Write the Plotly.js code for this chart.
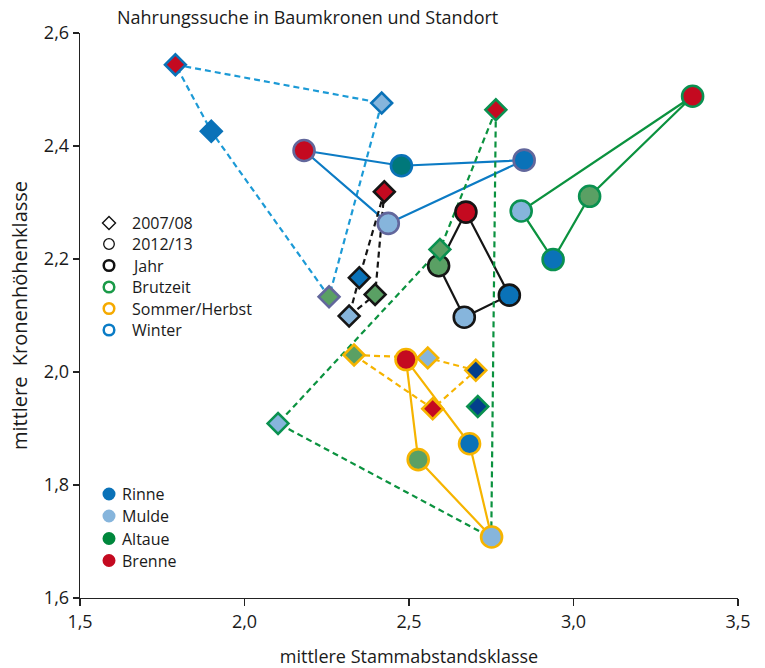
<!DOCTYPE html>
<html>
<head>
<meta charset="utf-8">
<script src="https://cdn.plot.ly/plotly-3.0.1.min.js"></script>
<style>html,body{margin:0;padding:0;background:#fff;}#chart{width:765px;height:668px;}</style>
</head>
<body>
<div id="chart"></div>
<script>
// ---- data (site order: Rinne, Mulde, Altaue, Brenne) ----
const sites = ['Rinne', 'Mulde', 'Altaue', 'Brenne'];
const seasons = ['Jahr', 'Brutzeit', 'Sommer/Herbst', 'Winter'];
const periods = ['2007/08', '2012/13'];

const win0708_x = [1.899, 2.417, 2.257, 1.790];
const win0708_y = [2.426, 2.476, 2.133, 2.544];
const win1213_x = [2.850, 2.437, 2.477, 2.181];
const win1213_y = [2.375, 2.263, 2.365, 2.392];
const jahr0708_x = [2.349, 2.318, 2.397, 2.425];
const jahr0708_y = [2.167, 2.099, 2.137, 2.319];
const jahr1213_x = [2.805, 2.668, 2.590, 2.673];
const jahr1213_y = [2.136, 2.097, 2.188, 2.283];
const brut0708_x = [2.709, 2.102, 2.594, 2.764];
const brut0708_y = [1.939, 1.909, 2.217, 2.464];
const brut1213_x = [2.938, 2.841, 3.049, 3.362];
const brut1213_y = [2.199, 2.285, 2.311, 2.488];
const sh0708_x = [2.703, 2.557, 2.333, 2.572];
const sh0708_y = [2.003, 2.025, 2.030, 1.935];
const sh1213_x = [2.684, 2.751, 2.528, 2.491];
const sh1213_y = [1.873, 1.708, 1.845, 2.022];
// dashed Brutzeit 2007/08 outline as drawn in the original
const brut0708_path_x = [2.764, 2.594, 2.102, 2.750, 2.764];
const brut0708_path_y = [2.464, 2.217, 1.909, 1.707, 2.464];

// connection order (indices into site arrays)
const win0708_order = [3, 1, 2, 0, 3];
const win1213_order = [3, 2, 0, 1, 3];
const jahr0708_order = [3, 0, 1, 2, 3];
const jahr1213_order = [3, 0, 1, 2, 3];
const brut1213_order = [3, 1, 0, 2, 3];
const sh0708_order = [2, 1, 0, 3, 2];
const sh1213_order = [3, 2, 1, 0, 3];

// ---- styles ----
const RIN = '#0a72b8', RIN_D = '#033f8c', MUL = '#86b5dc', ALT = '#5aa064', ALT_T = '#00787a', BRE = '#c40a20';
const C_JAHR = '#151515', C_BRUT = '#0a9150', C_BRUT_L = '#0b923f', C_SH = '#f6b400';
const C_WIN = '#0a72b8', C_WIN_P = '#62679c', C_WIN_DASH = '#1c9ad6', C_WIN_SOLID = '#0c7bc4';
const DASH = '6px,4px';

function pick(arr, order) { return order.map(i => arr[i]); }
function lineTrace(x, y, color, dash) {
  return {type: 'scatter', mode: 'lines', x: x, y: y, showlegend: false, hoverinfo: 'skip',
    line: {color: color, width: 2.2, dash: dash || 'solid'}};
}
function markTrace(x, y, symbol, fills, outlines) {
  const isD = symbol === 'diamond';
  return {type: 'scatter', mode: 'markers', x: x, y: y, text: sites, showlegend: false,
    marker: {symbol: symbol, size: isD ? 16 : 21, color: fills,
      line: {color: outlines, width: 2.6}}};
}

const traces = [
  lineTrace(pick(win0708_x, win0708_order), pick(win0708_y, win0708_order), C_WIN_DASH, DASH),
  lineTrace(pick(win1213_x, win1213_order), pick(win1213_y, win1213_order), C_WIN_SOLID),
  lineTrace(pick(jahr0708_x, jahr0708_order), pick(jahr0708_y, jahr0708_order), C_JAHR, DASH),
  lineTrace(pick(jahr1213_x, jahr1213_order), pick(jahr1213_y, jahr1213_order), C_JAHR),
  lineTrace(brut0708_path_x, brut0708_path_y, C_BRUT_L, DASH),
  lineTrace(pick(brut1213_x, brut1213_order), pick(brut1213_y, brut1213_order), C_BRUT_L),
  lineTrace(pick(sh0708_x, sh0708_order), pick(sh0708_y, sh0708_order), C_SH, DASH),
  lineTrace(pick(sh1213_x, sh1213_order), pick(sh1213_y, sh1213_order), C_SH),

  markTrace(win0708_x, win0708_y, 'diamond', [RIN, MUL, ALT, BRE], [C_WIN, C_WIN, C_WIN_P, C_WIN]),
  markTrace(win1213_x, win1213_y, 'circle', [RIN, MUL, ALT_T, BRE], [C_WIN_P, C_WIN_P, C_WIN, C_WIN_P]),
  markTrace(jahr1213_x, jahr1213_y, 'circle', [RIN, MUL, ALT, BRE], C_JAHR),
  markTrace(jahr0708_x, jahr0708_y, 'diamond', [RIN, MUL, ALT, BRE], C_JAHR),
  markTrace(brut1213_x, brut1213_y, 'circle', [RIN, MUL, ALT, BRE], C_BRUT),
  markTrace(brut0708_x, brut0708_y, 'diamond', [RIN_D, MUL, ALT, BRE], C_BRUT),
  markTrace(sh0708_x, sh0708_y, 'diamond', [RIN_D, MUL, ALT, BRE], C_SH),
  markTrace(sh1213_x, sh1213_y, 'circle', [RIN, MUL, ALT, BRE], C_SH)
];

// ---- legends (layout shapes + annotations, pixel-placed) ----
const M = {l: 80, r: 27, t: 33, b: 70};
const PW = 765 - M.l - M.r, PH = 668 - M.t - M.b;
const px2x = p => (p - M.l) / PW;
const px2y = p => (668 - M.b - p) / PH;

const leg1Names = periods.concat(seasons);
const leg1Rows = [223, 244, 265.5, 287, 308.5, 330];
const leg1Col = ['#111', '#111', '#111', '#1a9a48', '#f5aa00', '#0a7cc6'];
const leg1W = [1.4, 1.3, 2.5, 2.5, 2.5, 2.5];
const leg2Rows = [494, 516, 538.5, 560.5];
const leg2Col = [RIN, MUL, '#00873c', BRE];

const shapes = [], annotations = [];
leg1Names.forEach((n, i) => {
  const base = {xref: 'paper', yref: 'paper', xsizemode: 'pixel', ysizemode: 'pixel',
    xanchor: px2x(109), yanchor: px2y(leg1Rows[i]), line: {color: leg1Col[i], width: leg1W[i]},
    fillcolor: 'rgba(0,0,0,0)'};
  if (i === 0) shapes.push(Object.assign(base, {type: 'path', path: 'M-6.5,0 L0,6.5 L6.5,0 L0,-6.5 Z'}));
  else shapes.push(Object.assign(base, {type: 'circle', x0: -5.3, x1: 5.3, y0: -5.3, y1: 5.3}));
  annotations.push({xref: 'paper', yref: 'paper', x: px2x(130), y: px2y(leg1Rows[i]), xanchor: 'left',
    yanchor: 'middle', text: n, showarrow: false, font: {size: 16, color: '#1a1a1a'}});
});
sites.forEach((n, i) => {
  shapes.push({type: 'circle', xref: 'paper', yref: 'paper', xsizemode: 'pixel', ysizemode: 'pixel',
    xanchor: px2x(109), yanchor: px2y(leg2Rows[i]), x0: -6.5, x1: 6.5, y0: -6.5, y1: 6.5,
    fillcolor: leg2Col[i], line: {width: 0}});
  annotations.push({xref: 'paper', yref: 'paper', x: px2x(120), y: px2y(leg2Rows[i]), xanchor: 'left',
    yanchor: 'middle', text: n, showarrow: false, font: {size: 16, color: '#1a1a1a'}});
});

const FONT = 'Open Sans, Lato, sans-serif';
const layout = {
  width: 765, height: 668,
  margin: M,
  paper_bgcolor: '#fff', plot_bgcolor: '#fff',
  separators: ',.',
  showlegend: false,
  font: {family: FONT, color: '#1a1a1a', size: 16},
  title: {text: 'Nahrungssuche in Baumkronen und Standort', x: 117 / 765, xanchor: 'left',
    xref: 'container', y: 1 - 18 / 668, yref: 'container', yanchor: 'middle', font: {size: 18, color: '#1a1a1a'}},
  xaxis: {range: [1.5, 3.5], dtick: 0.5, tick0: 1.5, tickformat: '.1f', showgrid: false, zeroline: false,
    showline: true, linecolor: '#222', linewidth: 1.3, ticks: 'outside', ticklen: 7, tickcolor: '#222', tickwidth: 1.3,
    tickfont: {size: 18}, title: {text: 'mittlere Stammabstandsklasse', font: {size: 18}, standoff: 20}, fixedrange: true},
  yaxis: {range: [1.6, 2.6], dtick: 0.2, tick0: 1.6, tickformat: '.1f', showgrid: false, zeroline: false,
    showline: true, linecolor: '#222', linewidth: 1.3, ticks: 'outside', ticklen: 6, tickcolor: '#222', tickwidth: 1.3,
    tickfont: {size: 18}, title: {text: 'mittlere  Kronenhöhenklasse', font: {size: 20}, standoff: 10}, fixedrange: true},
  shapes: shapes,
  annotations: annotations
};

Plotly.newPlot('chart', traces, layout, {displayModeBar: false, staticPlot: true});
</script>
</body>
</html>
